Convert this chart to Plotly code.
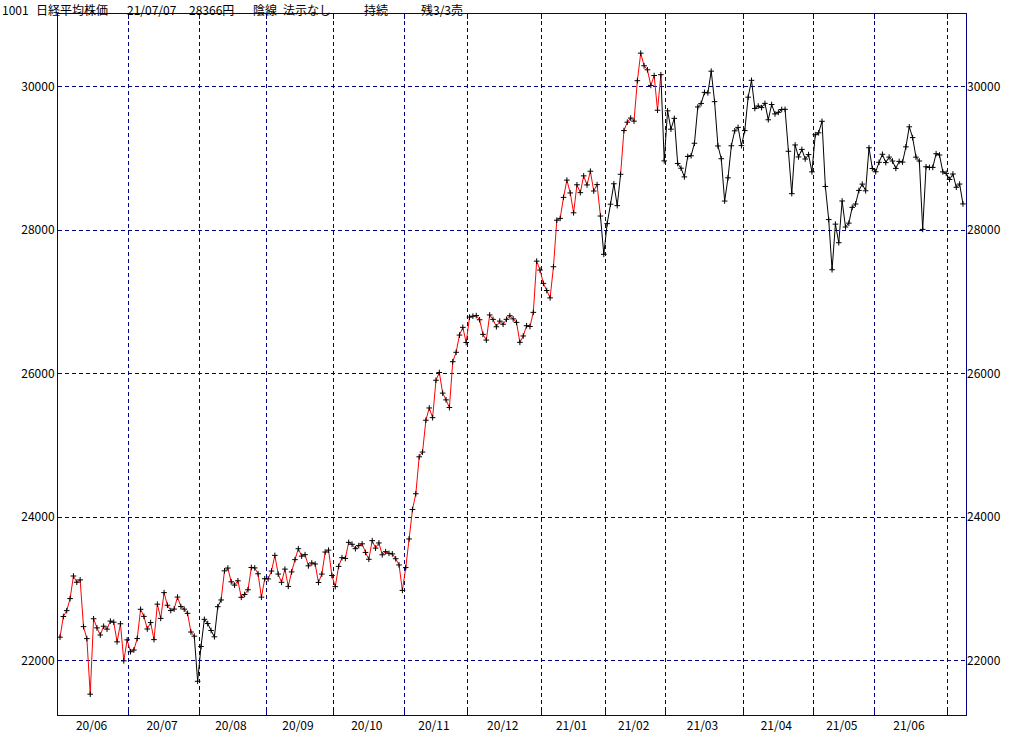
import pandas as pd
import plotly.graph_objects as go

# Nikkei 225 daily closes, 2020/06/02 - 2021/07/07
holidays = [
    "2020-07-23", "2020-07-24", "2020-08-10", "2020-09-21", "2020-09-22",
    "2020-10-01", "2020-11-03", "2020-11-23", "2020-12-31", "2021-01-01",
    "2021-01-11", "2021-02-11", "2021-02-23", "2021-04-29", "2021-05-03",
    "2021-05-04", "2021-05-05",
]

jun20 = [22325, 22613, 22695, 22863, 23178, 23091, 23124, 22472, 22305, 21530, 22582,
         22455, 22355, 22478, 22437, 22549, 22534, 22260, 22512, 21995, 22288]
jul20 = [22122, 22146, 22306, 22714, 22615, 22439, 22529, 22291, 22785, 22587, 22946,
         22770, 22696, 22717, 22884, 22752, 22716, 22657, 22397, 22339, 21710]
aug20 = [22195, 22574, 22515, 22418, 22330, 22750, 22844, 23250, 23289, 23097, 23051,
         23111, 22881, 22920, 22986, 23297, 23291, 23209, 22883, 23140]
sep20 = [23138, 23247, 23466, 23205, 23090, 23274, 23033, 23235, 23406, 23559, 23455,
         23476, 23319, 23360, 23346, 23088, 23205, 23512, 23539, 23185]
oct20 = [23030, 23312, 23434, 23423, 23647, 23620, 23559, 23602, 23627, 23507, 23411,
         23671, 23567, 23639, 23474, 23517, 23494, 23486, 23419, 23332, 22977]
nov20 = [23295, 23695, 24105, 24325, 24840, 24906, 25350, 25521, 25386, 25907, 26015,
         25728, 25634, 25527, 26166, 26297, 26537, 26645, 26434]
dec20 = [26788, 26801, 26809, 26751, 26547, 26467, 26818, 26756, 26653, 26732, 26688,
         26757, 26807, 26763, 26714, 26436, 26525, 26668, 26657, 26854, 27568, 27444]
jan21 = [27258, 27159, 27056, 27490, 28139, 28164, 28457, 28698, 28519, 28242, 28633,
         28523, 28757, 28631, 28822, 28546, 28635, 28197, 27663]
feb21 = [28091, 28362, 28647, 28342, 28779, 29389, 29506, 29563, 29520, 30084, 30468,
         30292, 30236, 30018, 30156, 29672, 30168, 28966]
mar21 = [29664, 29408, 29559, 28930, 28864, 28743, 29028, 29037, 29212, 29718, 29767,
         29921, 29914, 30217, 29792, 29174, 28996, 28406, 28730, 29177, 29385, 29433, 29179]
apr21 = [29389, 29854, 30089, 29697, 29731, 29709, 29768, 29539, 29752, 29621, 29643,
         29683, 29685, 29100, 28509, 29188, 29021, 29126, 28992, 29054, 28813]
may21 = [29331, 29358, 29518, 28609, 28148, 27448, 28084, 27825, 28407, 28044, 28098,
         28318, 28365, 28554, 28642, 28549, 29149, 28860]
jun21 = [28814, 28946, 29058, 28942, 29019, 28964, 28861, 28959, 28949, 29162, 29441,
         29291, 29018, 28964, 28011, 28884, 28875, 28875, 29066, 29048, 28813, 28792]
jul21 = [28707, 28783, 28598, 28643, 28366]

# periods drawn in black (sell side); rest is red
sell_periods = [("2020-07-31", "2020-08-12"), ("2021-01-29", "2021-02-05"), ("2021-02-26", "2021-07-07")]

y_ticks = [22000, 24000, 26000, 28000, 30000]
title_words = ["1001", "日経平均株価", "21/07/07", "28366円", "陰線", "法示なし", "持続", "残3/3売"]
title_pos = [1, 35, 126, 188, 252, 282, 363, 420]  # left edge, px from figure left

NAVY = "#000080"
FONT = "Noto Sans CJK JP"
L, R, T, B = 58, 58, 14, 15

closes = (jun20 + jul20 + aug20 + sep20 + oct20 + nov20 + dec20
          + jan21 + feb21 + mar21 + apr21 + may21 + jun21 + jul21)
days = pd.bdate_range("2020-06-02", "2021-07-07")
days = days[~days.isin(pd.to_datetime(holidays))]
frame = pd.DataFrame({"date": days, "close": closes})
frame["i"] = range(len(frame))

frame["sell"] = False
for start, end in sell_periods:
    frame.loc[frame["date"].between(start, end), "sell"] = True

red_x, red_y, blk_x, blk_y = [], [], [], []
for k in range(1, len(frame)):
    xs = [frame["i"][k - 1], frame["i"][k], None]
    ys = [frame["close"][k - 1], frame["close"][k], None]
    if frame["sell"][k]:
        blk_x += xs
        blk_y += ys
    else:
        red_x += xs
        red_y += ys

frame["month"] = frame["date"].dt.strftime("%y/%m")
months = frame.groupby("month")["i"].agg(["min", "max"])
centers = ((months["min"] + months["max"]) / 2 - 0.6).tolist()
bounds = (months["min"].iloc[1:] - 0.5).tolist()
labels = months.index.tolist()
# last month is only a few days, no label there
centers, labels = centers[:-1], labels[:-1]

fig = go.Figure()
fig.add_trace(go.Scatter(x=red_x, y=red_y, mode="lines", line={"color": "#ff0000", "width": 1}, hoverinfo="skip"))
fig.add_trace(go.Scatter(x=blk_x, y=blk_y, mode="lines", line={"color": "#000000", "width": 1}, hoverinfo="skip"))
fig.add_trace(
    go.Scatter(
        x=frame["i"], y=frame["close"], mode="markers", yaxis="y2",
        marker={"symbol": "cross-thin", "size": 4, "line": {"width": 1, "color": "#000000"}},
    )
)

plot_w = 1024 - L - R
for word, px in zip(title_words, title_pos):
    fig.add_annotation(
        text=word, xref="paper", yref="paper", x=(px - L) / plot_w, y=1,
        xanchor="left", yanchor="middle", yshift=5, showarrow=False, borderpad=0,
        font={"family": FONT, "size": 12, "color": "#000000"},
    )

y_range = [21240, 31014]
dash = "4px,3px"
y_text = [str(v) for v in y_ticks]
fig.update_layout(
    width=1024,
    height=745,
    margin={"l": L, "r": R, "t": T, "b": B},
    paper_bgcolor="white",
    plot_bgcolor="white",
    showlegend=False,
    font={"family": FONT, "size": 12, "color": "#000000"},
    xaxis={
        "range": [-0.6, 269.9], "tickmode": "array", "tickvals": centers, "ticktext": labels,
        "ticks": "", "showgrid": False, "zeroline": False,
        "showline": True, "linecolor": NAVY, "linewidth": 1, "mirror": "ticks",
        "minor": {"tickmode": "array", "tickvals": bounds, "showgrid": True, "gridcolor": NAVY,
                  "griddash": dash, "gridwidth": 1, "ticks": "inside", "ticklen": 5, "tickcolor": NAVY},
    },
    yaxis={
        "range": y_range, "tickmode": "array", "tickvals": y_ticks, "ticktext": y_text, "ticks": "",
        "showgrid": True, "gridcolor": NAVY, "griddash": dash, "gridwidth": 1, "zeroline": False,
        "showline": True, "linecolor": NAVY, "linewidth": 1, "mirror": True,
    },
    yaxis2={
        "range": y_range, "tickmode": "array", "tickvals": y_ticks, "ticktext": y_text, "ticks": "",
        "overlaying": "y", "side": "right", "showgrid": False, "zeroline": False, "showline": False,
    },
)

fig.write_html("out.html", config={"displayModeBar": False},
               post_script="document.body.style.margin='0';")
